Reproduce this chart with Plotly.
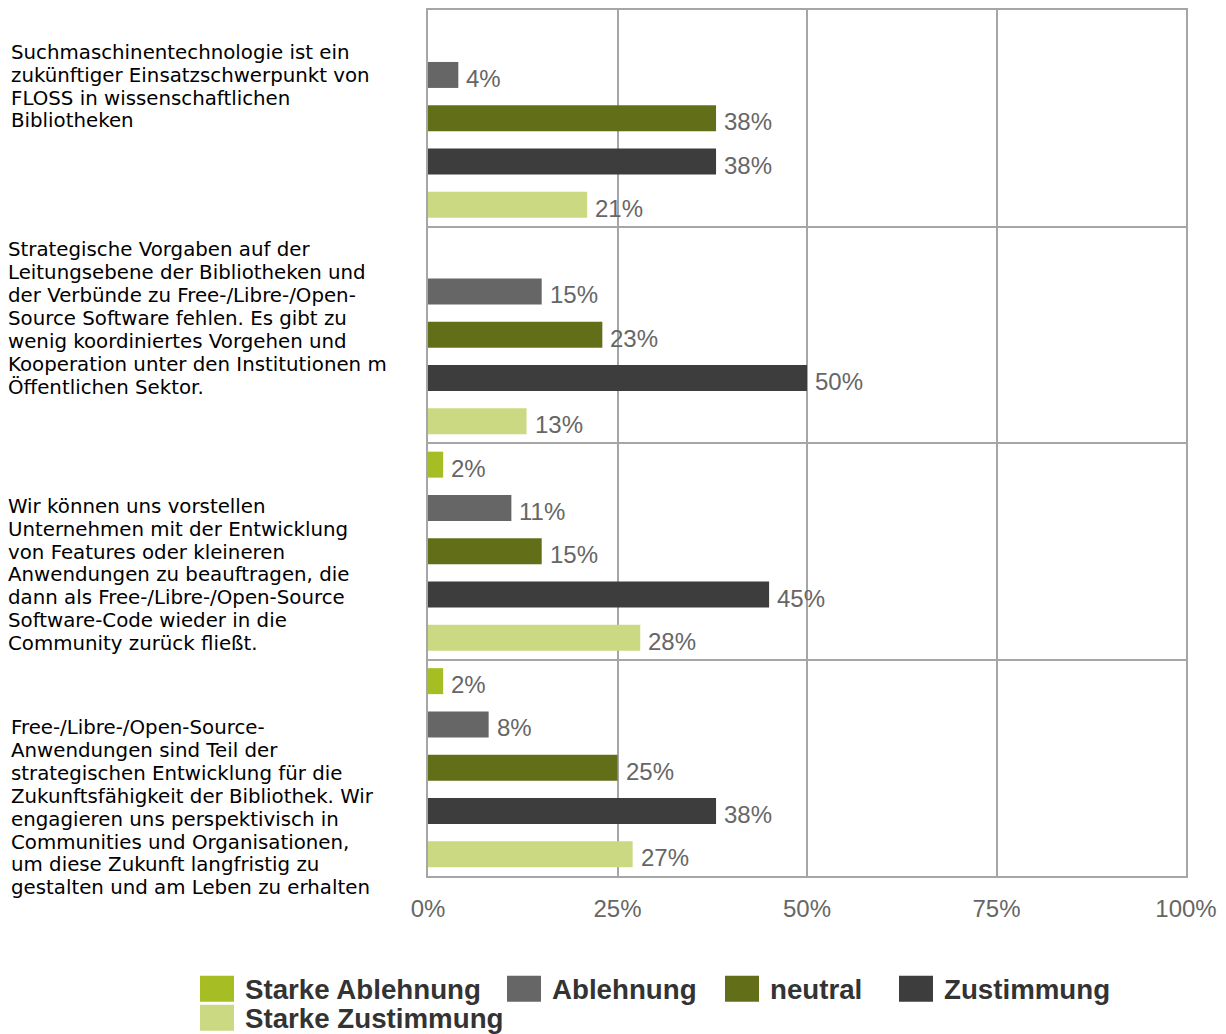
import plotly.graph_objects as go

# ---------------- data ----------------
categories = [
    "Suchmaschinentechnologie ist ein\nzukünftiger Einsatzschwerpunkt von\nFLOSS in wissenschaftlichen\nBibliotheken",
    "Strategische Vorgaben auf der\nLeitungsebene der Bibliotheken und\nder Verbünde zu Free-/Libre-/Open-\nSource Software fehlen. Es gibt zu\nwenig koordiniertes Vorgehen und\nKooperation unter den Institutionen m\nÖffentlichen Sektor.",
    "Wir können uns vorstellen\nUnternehmen mit der Entwicklung\nvon Features oder kleineren\nAnwendungen zu beauftragen, die\ndann als Free-/Libre-/Open-Source\nSoftware-Code wieder in die\nCommunity zurück fließt.",
    "Free-/Libre-/Open-Source-\nAnwendungen sind Teil der\nstrategischen Entwicklung für die\nZukunftsfähigkeit der Bibliothek. Wir\nengagieren uns perspektivisch in\nCommunities und Organisationen,\num diese Zukunft langfristig zu\ngestalten und am Leben zu erhalten",
]
series_names = ["Starke Ablehnung", "Ablehnung", "neutral", "Zustimmung", "Starke Zustimmung"]
starke_ablehnung = [0, 0, 2, 2]
ablehnung = [4, 15, 11, 8]
neutral = [38, 23, 15, 25]
zustimmung = [38, 50, 45, 38]
starke_zustimmung = [21, 13, 28, 27]
x_tick_values = [0, 25, 50, 75, 100]
x_tick_labels = ["0%", "25%", "50%", "75%", "100%"]

# ---------------- styles ----------------
colors = ["#a6bd23", "#666666", "#626f18", "#3d3d3d", "#cbd982"]
series_values = [starke_ablehnung, ablehnung, neutral, zustimmung, starke_zustimmung]

W, H = 1226, 1034
L, R, T, B = 428, 1186, 8, 876
grid_col = "#a6a6a6"

def px_x(px):
    return (px - L) / (R - L)

def px_y(py):
    return (B - py) / (B - T)

fig = go.Figure()
ncat = len(categories)
for name, vals, col in zip(series_names, series_values, colors):
    fig.add_trace(go.Bar(
        y=list(range(ncat)), x=vals, name=name, orientation="h",
        marker=dict(color=col, line=dict(width=0)),
        showlegend=False, hoverinfo="x+name",
    ))

annotations = []
nser = len(series_names)
slot = 1.0 / nser
for i, vals in enumerate(series_values):
    for c, v in enumerate(vals):
        if v <= 0:
            continue
        annotations.append(dict(
            x=v, y=c + (i - (nser - 1) / 2) * slot, xref="x", yref="y",
            text=f"{v}%", showarrow=False, xanchor="left", yanchor="middle",
            xshift=6, yshift=-3.5,
            font=dict(family="Liberation Sans", size=24, color="#666666"),
        ))

# category labels (left-aligned text blocks)
label_first_line_px = [50.5, 248.5, 505.5, 727.5]
label_left_px = [9, 6, 6, 9]
line_step = 22.9
for c, text in enumerate(categories):
    for k, line in enumerate(text.split("\n")):
        annotations.append(dict(
            x=px_x(label_left_px[c]), y=px_y(label_first_line_px[c] + k * line_step),
            xref="paper", yref="paper", text=line, showarrow=False,
            xanchor="left", yanchor="middle",
            font=dict(family="DejaVu Sans", size=19.8, color="#000000"),
        ))

# legend (manual, large swatches)
legend_items_px = [(200, 989), (507, 989), (725, 989), (899, 989), (200, 1018)]
shapes = []
for (lx, ly), name, col in zip(legend_items_px, series_names, colors):
    shapes.append(dict(
        type="rect", xref="paper", yref="paper",
        x0=px_x(lx), x1=px_x(lx + 34), y0=px_y(ly - 13), y1=px_y(ly + 13),
        fillcolor=col, line=dict(width=0),
    ))
    annotations.append(dict(
        x=px_x(lx + 43), y=px_y(ly + 1), xref="paper", yref="paper",
        text=f"<b>{name}</b>", showarrow=False, xanchor="left", yanchor="middle",
        font=dict(family="Liberation Sans", size=27.7, color="#333333"),
    ))

fig.update_layout(
    width=W, height=H,
    margin=dict(l=L, r=W - R, t=T, b=H - B, pad=0),
    paper_bgcolor="white", plot_bgcolor="white",
    barmode="group", bargap=0, bargroupgap=0.4,
    showlegend=False,
    annotations=annotations, shapes=shapes,
    xaxis=dict(
        range=[0, 100], tickvals=x_tick_values, ticktext=x_tick_labels,
        showgrid=True, gridcolor=grid_col, gridwidth=2,
        showline=True, linecolor=grid_col, linewidth=2, mirror=True,
        zeroline=False, ticks="", ticklabelstandoff=10,
        tickfont=dict(family="Liberation Sans", size=24, color="#666666"),
        fixedrange=True,
    ),
    yaxis=dict(
        type="linear", range=[ncat - 0.5, -0.5],
        tickvals=[c + 0.5 for c in range(ncat - 1)], showticklabels=False,
        showgrid=True, gridcolor=grid_col, gridwidth=2,
        showline=True, linecolor=grid_col, linewidth=2, mirror=True,
        zeroline=False, ticks="", fixedrange=True,
    ),
)

fig.write_html("out.html", config={"displayModeBar": False})
